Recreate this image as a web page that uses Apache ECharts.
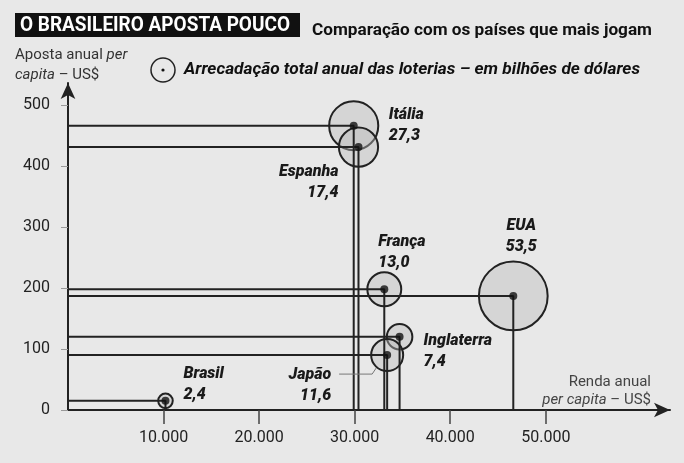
<!DOCTYPE html>
<html><head><meta charset="utf-8">
<script src="https://cdn.jsdelivr.net/npm/echarts@6/dist/echarts.min.js"></script>
<style>html,body{margin:0;padding:0;background:#e8e8e8}#c{width:684px;height:463px}</style>
</head><body><div id="c"></div>
<script>
// ---- data ----
const countries = ['Itália', 'Espanha', 'França', 'EUA', 'Inglaterra', 'Japão', 'Brasil'];
const incomePerCapita = [29900, 30400, 33100, 46600, 34700, 33400, 10200];   // US$
const betPerCapita = [466, 431, 198, 187, 120, 90, 15];                      // US$
const lotteryRevenue = [27.3, 17.4, 13.0, 53.5, 7.4, 11.6, 2.4];             // bilhões US$
const xTickValues = [10000, 20000, 30000, 40000, 50000];
const yTickValues = [0, 100, 200, 300, 400, 500];

// ---- label layout (styling only) ----
const labelLayout = {
  'Itália':     { offset: [35, 0],   align: 'left' },
  'Espanha':    { offset: [-20, 35], align: 'right' },
  'França':     { offset: [-6, -37], align: 'left' },
  'EUA':        { offset: [8, -59],  align: 'center' },
  'Inglaterra': { offset: [24, 15],  align: 'left' },
  'Japão':      { offset: [-56, 30], align: 'right' },
  'Brasil':     { offset: [18, -16], align: 'left' }
};

const fmtNum = v => v.toFixed(1).replace('.', ',');
const fmtThousands = v => String(v).replace(/\B(?=(\d{3})+(?!\d))/g, '.');

const chart = echarts.init(document.getElementById('c'), null, { renderer: 'canvas' });

const bubbleData = countries.map((c, i) => ({
  name: c,
  value: [incomePerCapita[i], betPerCapita[i], lotteryRevenue[i]],
  label: {
    show: true, position: 'inside',
    offset: labelLayout[c].offset, align: labelLayout[c].align, verticalAlign: 'middle',
    formatter: c + '\n' + fmtNum(lotteryRevenue[i]),
    fontFamily: 'Roboto', fontWeight: 900, fontStyle: 'italic', fontSize: 16,
    lineHeight: 21, color: '#1a1a1a'
  }
}));

const lineSeries = countries.map((c, i) => ({
  type: 'line', silent: true, z: 3,
  symbol: 'none',
  lineStyle: { color: '#222', width: 2 },
  data: [[0, betPerCapita[i]], [incomePerCapita[i], betPerCapita[i]], [incomePerCapita[i], 0]],
  animation: false
}));

function measure(text, font) {
  const cv = document.createElement('canvas').getContext('2d');
  cv.font = font; return cv.measureText(text).width;
}
function fitText(text, x, y, targetW, font, fill) {
  const w = measure(text, font);
  return {
    type: 'text', x: x, y: y, scaleX: targetW / w, z: 10,
    style: { text: text, x: 0, y: 0, fill: fill, font: font, textVerticalAlign: 'middle', textAlign: 'left' }
  };
}

const option = {
  backgroundColor: '#e8e8e8',
  animation: false,
  grid: { left: 68, right: 14, top: 83, bottom: 53 },
  xAxis: {
    type: 'value', min: 0, max: 63000,
    splitLine: { show: false },
    axisLine: { show: true, lineStyle: { color: '#222', width: 2 }, symbol: ['none', 'arrow'], symbolSize: [11, 16] },
    axisTick: { show: true, customValues: xTickValues, length: 14, inside: false, lineStyle: { color: '#444', width: 1.5 } },
    axisLabel: { customValues: xTickValues, formatter: v => fmtThousands(v), margin: 20,
      fontFamily: 'Roboto', fontSize: 16, color: '#222' }
  },
  yAxis: {
    type: 'value', min: 0, max: 536,
    splitLine: { show: false },
    axisLine: { show: true, lineStyle: { color: '#222', width: 2 }, symbol: ['none', 'arrow'], symbolSize: [11, 16] },
    axisTick: { show: true, customValues: yTickValues, length: 7, lineStyle: { color: '#999', width: 1 } },
    axisLabel: { customValues: yTickValues, margin: 18,
      fontFamily: 'Roboto', fontSize: 16, color: '#222' }
  },
  series: [
    {
      type: 'scatter', z: 2, name: 'bubbles',
      symbol: 'circle',
      symbolSize: d => 9.4 * Math.sqrt(d[2]),
      itemStyle: { color: 'rgba(185,185,185,0.42)', borderColor: '#222', borderWidth: 2, opacity: 1 },
      data: bubbleData
    },
    ...lineSeries,
    {
      type: 'scatter', z: 5, silent: true, symbol: 'circle', symbolSize: 8,
      itemStyle: { color: '#111' },
      data: countries.map((c, i) => [incomePerCapita[i], betPerCapita[i]])
    }
  ]
};
chart.setOption(option);

// overlays: title, subtitle, legend, axis names, Japão leader line
const jp = countries.indexOf('Japão');
const jpPx = chart.convertToPixel({ gridIndex: 0 }, [incomePerCapita[jp], betPerCapita[jp]]);

const rich = (col) => ({
  r: { fontFamily: 'Roboto', fontSize: 15, fill: col, color: col },
  i: { fontFamily: 'Roboto', fontSize: 15, fontStyle: 'italic', fill: col, color: col }
});

chart.setOption({
  graphic: [
    { type: 'rect', shape: { x: 15, y: 13, width: 285, height: 24 }, style: { fill: '#111' }, z: 9 },
    fitText('O BRASILEIRO APOSTA POUCO', 20, 25.5, 270, 'bold 21px Roboto', '#fff'),
    fitText('Comparação com os países que mais jogam', 312, 31, 340, 'bold 17px Roboto', '#111'),
    { type: 'circle', shape: { cx: 163, cy: 70, r: 12 }, style: { fill: 'none', stroke: '#222', lineWidth: 1.5 }, z: 10 },
    { type: 'circle', shape: { cx: 163, cy: 70, r: 1.6 }, style: { fill: '#111' }, z: 10 },
    fitText('Arrecadação total anual das loterias – em bilhões de dólares', 184, 70, 456, 'italic bold 16px Roboto', '#111'),
    { type: 'text', x: 15, y: 55, z: 10, style: {
        text: '{r|Aposta anual }{i|per}', textVerticalAlign: 'middle', rich: rich('#333') } },
    { type: 'text', x: 15, y: 75, z: 10, style: {
        text: '{i|capita}{r| – US$}', textVerticalAlign: 'middle', rich: rich('#333') } },
    { type: 'text', x: 651, y: 382, z: 10, style: { text: 'Renda anual', textAlign: 'right', textVerticalAlign: 'middle',
        font: '15px Roboto', fill: '#444' } },
    { type: 'text', x: 651, y: 400, z: 10, style: {
        text: '{i|per capita}{r| – US$}', textAlign: 'right', textVerticalAlign: 'middle', rich: rich('#444') } },
    { type: 'polyline', z: 6, silent: true,
      shape: { points: [[jpPx[0] - 48, jpPx[1] + 19], [jpPx[0] - 15, jpPx[1] + 19], [jpPx[0] - 11, jpPx[1] + 13]] },
      style: { stroke: '#777', lineWidth: 1, fill: null } }
  ]
});
</script>
</body></html>
